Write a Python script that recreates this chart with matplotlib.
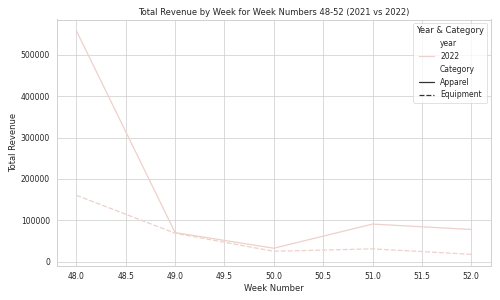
import matplotlib
matplotlib.use("Agg")
import matplotlib.pyplot as plt
import seaborn as sns
import pandas as pd

weeks = [48, 49, 50, 51, 52]
apparel = [558000, 70500, 32700, 91000, 78000]
equipment = [160500, 69000, 25300, 31200, 18000]
year = 2022

df = pd.DataFrame({
    "week_number": weeks * 2,
    "total_revenue": apparel + equipment,
    "Category": ["Apparel"] * len(weeks) + ["Equipment"] * len(weeks),
    "year": [year] * (2 * len(weeks)),
})

sns.set_theme(style="whitegrid")
fig, ax = plt.subplots(figsize=(10, 6), dpi=50)
sns.lineplot(data=df, x="week_number", y="total_revenue", hue="year", style="Category",
             ax=ax, linewidth=1.8)
ax.set_title("Total Revenue by Week for Week Numbers 48-52 (2021 vs 2022)")
ax.set_xlabel("Week Number")
ax.set_ylabel("Total Revenue")
ax.legend(title="Year & Category", loc="upper right")
fig.tight_layout()
fig.subplots_adjust(bottom=0.115, top=0.935)
fig.savefig("out.png")
